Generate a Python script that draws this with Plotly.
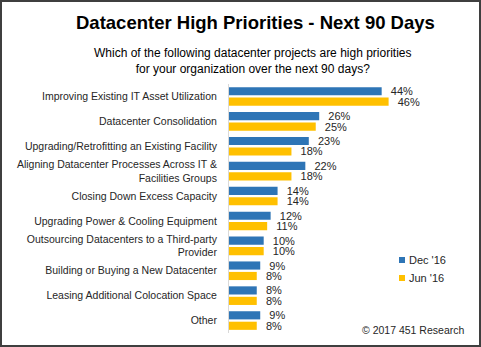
import plotly.graph_objects as go

categories = [
    "Improving Existing IT Asset Utilization",
    "Datacenter Consolidation",
    "Upgrading/Retrofitting an Existing Facility",
    "Aligning Datacenter Processes Across IT &<br>Facilities Groups",
    "Closing Down Excess Capacity",
    "Upgrading Power & Cooling Equipment",
    "Outsourcing Datacenters to a Third-party<br>Provider",
    "Building or Buying a New Datacenter",
    "Leasing Additional Colocation Space",
    "Other",
]
dec16 = [44, 26, 23, 22, 14, 12, 10, 9, 8, 9]
jun16 = [46, 25, 18, 18, 14, 11, 10, 8, 8, 8]
series_names = ["Dec '16", "Jun '16"]
colors = ["#2E75B6", "#FFC000"]

W, H = 481, 347
L, R, T, B = 229, 6, 84, 14
pw, ph = W - L - R, H - T - B

def px(x):
    return (x - L) / pw

def py(y):
    return (H - B - y) / ph

fig = go.Figure()
for name, vals, c in zip(series_names, [dec16, jun16], colors):
    fig.add_trace(go.Bar(
        y=categories, x=vals, orientation="h", name=name,
        marker=dict(color=c, line=dict(width=0)),
        text=[f"\u00a0\u00a0{v}%" for v in vals], textposition="outside",
        textfont=dict(family="Arial", size=11, color="#262626"),
        constraintext="none", cliponaxis=False, showlegend=False,
    ))

annotations = [
    dict(text="<b>Datacenter High Priorities - Next 90 Days</b>",
         x=px(255), y=py(22), xref="paper", yref="paper",
         xanchor="center", yanchor="middle", showarrow=False,
         font=dict(family="Arial", size=18.5, color="#000000")),
    dict(text="Which of the following datacenter projects are high priorities<br>for your organization over the next 90 days?",
         x=px(253), y=py(61), xref="paper", yref="paper",
         xanchor="center", yanchor="middle", showarrow=False,
         font=dict(family="Arial", size=12, color="#000000")),
    dict(text="© 2017 451 Research",
         x=px(466), y=py(330), xref="paper", yref="paper",
         xanchor="right", yanchor="middle", showarrow=False,
         font=dict(family="Arial", size=10.5, color="#262626")),
]
shapes = [
    dict(type="rect", xref="paper", yref="paper",
         x0=px(1), x1=px(480), y0=py(346), y1=py(1),
         line=dict(color="#3F3F3F", width=2), fillcolor="rgba(0,0,0,0)"),
]
# legend (manual, to match the reference's compact square keys)
for i, (name, c) in enumerate(zip(series_names, colors)):
    yc = 260 + 18 * i
    shapes.append(dict(type="rect", xref="paper", yref="paper",
                       x0=px(399), x1=px(405), y0=py(yc + 3), y1=py(yc - 3),
                       line=dict(width=0), fillcolor=c))
    annotations.append(dict(text=name, x=px(407), y=py(yc), xref="paper", yref="paper",
                            xanchor="left", yanchor="middle", showarrow=False,
                            font=dict(family="Arial", size=11, color="#262626")))

fig.update_layout(
    width=W, height=H,
    margin=dict(l=L, r=R, t=T, b=B, autoexpand=False),
    paper_bgcolor="white", plot_bgcolor="white",
    barmode="group", bargap=0.16, bargroupgap=0.22,
    showlegend=False,
    font=dict(family="Arial", color="#262626"),
    xaxis=dict(range=[0, 70.9], showgrid=False, zeroline=False,
               showticklabels=False, showline=False, fixedrange=True,
               automargin=False),
    yaxis=dict(autorange="reversed", showgrid=False, showline=True,
               linecolor="#D9D9D9", linewidth=1, ticks="",
               tickfont=dict(family="Arial", size=10.5, color="#262626"),
               ticklabelstandoff=9, automargin=False),
    annotations=annotations,
    shapes=shapes,
)

fig.write_html("out.html")
